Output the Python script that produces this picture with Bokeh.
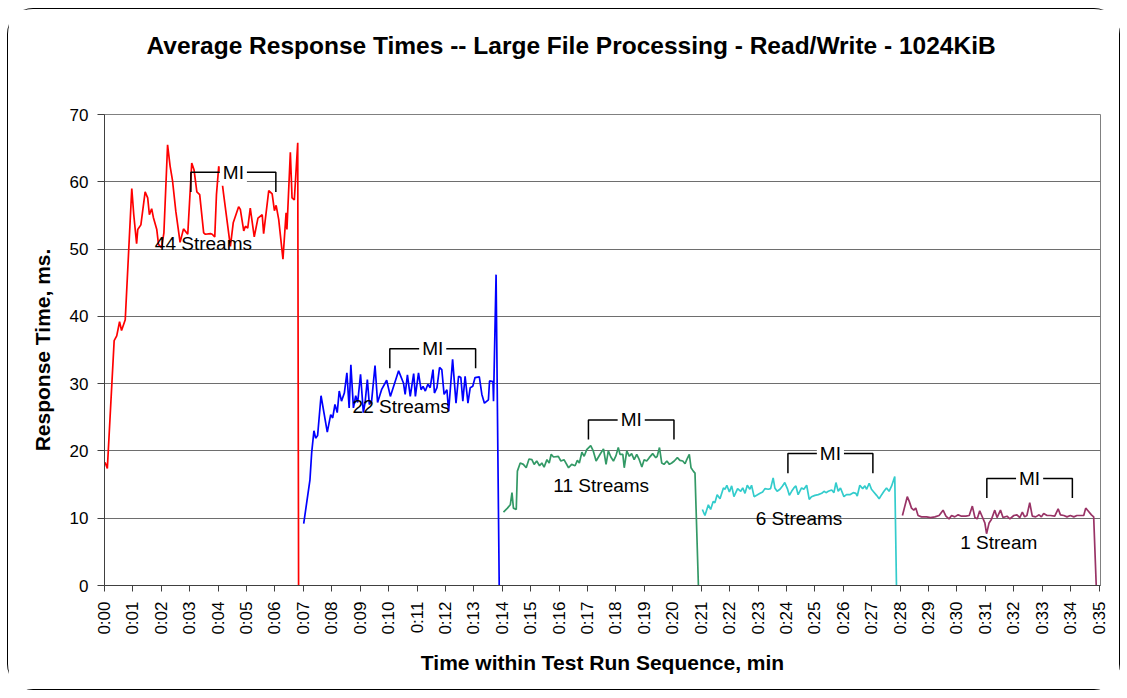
import math
from bokeh.plotting import figure
from bokeh.models import Range1d, FixedTicker, Label, Title
from bokeh.core.properties import value
from bokeh.embed import file_html
from bokeh.resources import INLINE

TITLE = "Average Response Times -- Large File Processing - Read/Write - 1024KiB"
X_LABEL = "Time within Test Run Sequence, min"
Y_LABEL = "Response Time, ms."
x_ticks = list(range(0, 36))
x_tick_labels = ["0:%02d" % m for m in x_ticks]
y_ticks = [0, 10, 20, 30, 40, 50, 60, 70]

# 44 streams (red)
t44 = [0.02, 0.1, 0.34, 0.43, 0.53, 0.6, 0.73, 0.96, 1.03, 1.13, 1.17, 1.28, 1.43, 1.52, 1.58, 1.66,
       1.72, 1.84, 1.9, 2.01, 2.09, 2.22, 2.31, 2.39, 2.51, 2.66, 2.78, 2.93, 3.07, 3.15, 3.25, 3.35,
       3.49, 3.55, 3.73, 3.79, 3.88, 3.94, 4.02, 4.11, 4.19, 4.43, 4.53, 4.72, 4.78, 4.9, 4.96, 5.04,
       5.13, 5.27, 5.4, 5.55, 5.6, 5.78, 5.9, 5.98, 6.04, 6.13, 6.28, 6.39, 6.42, 6.54, 6.6, 6.68,
       6.8, 6.83]
y44 = [18.3, 17.4, 36.4, 37.1, 39.2, 37.9, 39.5, 59.0, 55.1, 50.8, 52.9, 53.6, 58.5, 57.6, 55.1, 56.0,
       54.7, 52.9, 50.7, 50.2, 52.4, 65.5, 62.3, 60.3, 55.6, 51.0, 53.0, 52.2, 62.8, 61.8, 58.5, 58.1,
       52.4, 52.2, 52.3, 52.2, 51.8, 58.1, 62.3, 61.0, 58.2, 50.4, 53.9, 56.3, 55.9, 52.7, 53.4, 53.1,
       56.1, 51.8, 54.6, 55.1, 52.3, 58.7, 58.2, 55.7, 56.5, 54.4, 48.5, 55.4, 52.9, 64.4, 57.6, 57.3,
       65.8, 0.0]

# 22 streams (blue)
t22 = [7.01, 7.23, 7.29, 7.37, 7.43, 7.5, 7.62, 7.84, 7.96, 8.03, 8.11, 8.19, 8.26, 8.34, 8.44, 8.53,
       8.61, 8.67, 8.76, 8.84, 8.91, 9.01, 9.11, 9.17, 9.25, 9.32, 9.4, 9.52, 9.61, 9.75, 9.93, 10.06,
       10.35, 10.52, 10.58, 10.66, 10.76, 10.88, 10.94, 11.05, 11.14, 11.21, 11.29, 11.38, 11.46, 11.56,
       11.61, 11.7, 11.79, 11.87, 11.95, 12.05, 12.11, 12.25, 12.37, 12.46, 12.54, 12.61, 12.69, 12.79,
       12.87, 12.96, 13.04, 13.19, 13.28, 13.37, 13.51, 13.55, 13.67, 13.69, 13.78, 13.89]
y22 = [9.2, 15.7, 19.7, 23.0, 21.9, 22.3, 28.2, 22.8, 25.4, 24.9, 26.9, 25.7, 28.9, 27.4, 28.6, 31.6,
       26.4, 32.8, 26.4, 28.2, 27.2, 31.4, 25.7, 27.2, 30.6, 26.9, 27.4, 32.7, 27.2, 29.1, 30.5, 28.1,
       31.9, 30.1, 28.4, 31.3, 28.1, 31.5, 28.1, 31.6, 29.1, 29.6, 28.9, 29.9, 29.4, 32.1,
       28.6, 29.4, 32.4, 32.1, 28.4, 29.1, 25.9, 33.6, 27.1, 31.1, 30.9, 27.4, 31.1, 27.1,
       29.4, 29.6, 30.9, 31.0, 28.4, 27.1, 27.6, 30.4, 30.3, 27.4, 46.2, 0.0]

# 11 streams (green)
t11 = [14.04, 14.18, 14.28, 14.34, 14.39, 14.49, 14.53, 14.63, 14.74, 14.84, 14.94, 15.04, 15.12, 15.21,
       15.31, 15.39, 15.47, 15.57, 15.65, 15.72, 15.8, 15.97, 16.06, 16.17, 16.33, 16.44, 16.56, 16.64,
       16.71, 16.8, 16.88, 16.97, 17.11, 17.2, 17.3, 17.44, 17.56, 17.65, 17.73, 17.82, 17.91, 18.0,
       18.08, 18.14, 18.24, 18.29, 18.38, 18.47, 18.55, 18.64, 18.73, 18.82, 18.91, 18.99, 19.08, 19.17,
       19.29, 19.4, 19.45, 19.53, 19.61, 19.69, 19.79, 19.88, 19.96, 20.05, 20.16, 20.25, 20.35, 20.43,
       20.49, 20.58, 20.64, 20.72, 20.78, 20.9]
y11 = [10.9, 11.5, 12.0, 13.8, 11.5, 11.3, 17.0, 18.2, 18.0, 17.5, 18.8, 18.7, 18.0, 18.5,
       17.8, 18.2, 17.6, 18.7, 18.2, 19.5, 19.1, 19.2, 18.5, 18.7, 17.5, 18.0, 17.8, 18.6,
       18.2, 19.8, 19.2, 20.2, 20.8, 20.0, 18.5, 19.5, 20.3, 18.0, 20.0, 19.1, 18.5, 19.3,
       20.5, 19.5, 19.5, 17.5, 20.0, 19.2, 19.6, 18.7, 19.5, 18.7, 17.6, 18.7, 18.5, 19.0,
       19.6, 19.0, 19.2, 20.5, 18.2, 18.0, 18.5, 18.0, 18.2, 18.5, 19.0, 18.6, 18.5, 18.1,
       18.7, 19.5, 17.5, 17.0, 16.7, 0.0]

# 6 streams (cyan)
t6 = [21.04, 21.13, 21.25, 21.33, 21.42, 21.48, 21.56, 21.66, 21.78, 21.84, 21.9, 21.99, 22.07, 22.15,
      22.28, 22.39, 22.46, 22.54, 22.62, 22.71, 22.77, 22.86, 22.95, 23.07, 23.16, 23.24, 23.36, 23.44,
      23.53, 23.59, 23.67, 23.77, 23.86, 23.94, 24.03, 24.1, 24.18, 24.26, 24.33, 24.41, 24.53, 24.61,
      24.71, 24.8, 24.88, 25.0, 25.12, 25.24, 25.32, 25.39, 25.47, 25.59, 25.67, 25.74, 25.82, 25.9,
      26.02, 26.11, 26.23, 26.35, 26.44, 26.49, 26.58, 26.68, 26.76, 26.82, 26.91, 26.99, 27.07, 27.17,
      27.26, 27.35, 27.43, 27.52, 27.61, 27.7, 27.81, 27.87]
y6 = [11.3, 10.4, 12.0, 11.3, 12.5, 12.3, 13.5, 12.9, 14.5, 14.3, 14.9, 13.9, 14.8, 13.2,
      14.4, 14.0, 14.5, 13.7, 14.9, 14.3, 14.9, 13.2, 13.4, 13.7, 13.9, 14.4, 14.3, 14.4,
      16.0, 14.5, 14.0, 14.3, 14.8, 15.3, 14.4, 13.4, 14.0, 14.5, 14.8, 13.5, 14.5, 14.3,
      14.9, 12.8, 13.2, 13.4, 13.5, 13.7, 14.0, 13.8, 14.0, 14.2, 13.8, 15.3, 14.0, 14.5,
      13.2, 13.5, 13.5, 13.8, 13.7, 13.3, 14.9, 14.4, 14.8, 14.3, 15.2, 14.3, 13.9, 13.4,
      12.9, 13.5, 14.0, 14.5, 14.0, 14.8, 16.2, 0.0]

# 1 stream (purple)
t1 = [28.08, 28.25, 28.32, 28.4, 28.48, 28.55, 28.63, 28.75, 28.93, 29.07, 29.22, 29.37, 29.51, 29.61,
      29.72, 29.81, 29.92, 30.04, 30.16, 30.31, 30.43, 30.54, 30.63, 30.71, 30.8, 30.9, 30.98, 31.04,
      31.13, 31.21, 31.33, 31.41, 31.53, 31.62, 31.76, 31.86, 32.0, 32.11, 32.21, 32.3, 32.38, 32.46,
      32.56, 32.65, 32.77, 32.89, 32.97, 33.05, 33.17, 33.29, 33.44, 33.56, 33.64, 33.76, 33.87, 33.99,
      34.11, 34.22, 34.38, 34.46, 34.53, 34.61, 34.73, 34.81, 34.9]
y1 = [10.4, 13.2, 12.5, 11.5, 11.2, 11.5, 10.4, 10.2, 10.2, 10.1, 10.2, 10.4, 11.2, 10.3,
      9.9, 10.4, 10.2, 10.5, 10.3, 10.3, 10.4, 11.8, 10.1, 9.9, 11.1, 10.1, 9.3, 7.7,
      9.3, 9.8, 11.2, 10.1, 11.2, 10.1, 10.3, 9.9, 10.4, 10.5, 10.1, 10.9, 10.2, 10.4,
      12.3, 10.3, 10.2, 10.5, 10.2, 10.7, 10.4, 10.4, 10.3, 11.4, 10.5, 10.4, 10.2, 10.4,
      10.2, 10.4, 10.4, 10.4, 11.5, 11.1, 10.5, 10.2, 0.0]

series = [
    (t44, y44, "#FF0000"),
    (t22, y22, "#0000FF"),
    (t11, y11, "#339966"),
    (t6, y6, "#33CCCC"),
    (t1, y1, "#993366"),
]

stream_labels = ["44 Streams", "22 Streams", "11 Streams", "6 Streams", "1 Stream"]
stream_label_x = [3.48, 10.44, 17.48, 24.44, 31.47]
stream_label_y = [50.8, 26.6, 14.9, 9.96, 6.4]

mi_start = [3.04, 10.04, 17.03, 24.05, 31.05]
mi_end = [6.03, 13.06, 20.04, 27.04, 34.06]
mi_top = [61.4, 35.2, 24.6, 19.6, 15.9]
mi_drop = 2.9

FONT = "Liberation Sans"

p = figure(width=1113, height=682, output_backend="svg", toolbar_location=None,
           x_range=Range1d(0, 35.05), y_range=Range1d(0, 70),
           min_border_left=96, min_border_right=21, min_border_top=105, min_border_bottom=106)
p.styles = {"border": "1px solid #000000", "border-radius": "26px", "box-sizing": "border-box",
            "margin-left": "7px", "margin-top": "8px"}
p.background_fill_color = "white"
p.border_fill_color = "white"
p.outline_line_color = "#808080"
p.outline_line_width = 1

# spacer between frame and title (first added = closest to the frame)
p.add_layout(Title(text=" ", text_font_size="1px", standoff=47), "above")
p.add_layout(Title(text=TITLE, text_font=FONT, text_font_size="24.5px", text_font_style="bold",
                   text_color="black", align="left", vertical_align="middle", offset=42,
                   standoff=10), "above")

for t, y, c in series:
    p.line(t, y, line_color=c, line_width=1.7)

p.text(x=stream_label_x, y=stream_label_y, text=stream_labels, text_align="center",
       text_baseline="middle", text_font=value(FONT), text_font_size="19px", text_color="black")

for xs, xe, yt in zip(mi_start, mi_end, mi_top):
    p.line([xs, xs, xe, xe], [yt - mi_drop, yt, yt, yt - mi_drop], line_color="black", line_width=1.5)
    p.add_layout(Label(x=(xs + xe) / 2, y=yt, text="MI", text_align="center", text_baseline="middle",
                       text_font=FONT, text_font_size="19px", text_color="black",
                       background_fill_color="white", padding=3))

p.xgrid.visible = False
p.ygrid.grid_line_color = "#6e6e6e"
p.ygrid.grid_line_width = 1
p.ygrid.ticker = FixedTicker(ticks=y_ticks)

xa = p.xaxis[0]
xa.ticker = FixedTicker(ticks=x_ticks)
xa.major_label_overrides = {m: lab for m, lab in zip(x_ticks, x_tick_labels)}
xa.major_label_orientation = math.pi / 2
xa.minor_tick_line_color = None
xa.major_tick_out = 6
xa.major_tick_in = 0
xa.major_label_standoff = 10
xa.axis_label = X_LABEL
xa.axis_label_standoff = 13

ya = p.yaxis[0]
ya.ticker = FixedTicker(ticks=y_ticks)
ya.minor_tick_line_color = None
ya.major_tick_out = 7
ya.major_tick_in = 0
ya.major_label_standoff = 9
ya.axis_label = Y_LABEL
ya.axis_label_standoff = 13

for ax in (xa, ya):
    ax.axis_line_color = "#404040"
    ax.major_tick_line_color = "#404040"
    ax.major_label_text_font = FONT
    ax.major_label_text_font_size = "17px"
    ax.major_label_text_color = "black"
    ax.axis_label_text_font = FONT
    ax.axis_label_text_font_size = "21px"
    ax.axis_label_text_font_style = "bold"
    ax.axis_label_text_color = "black"

open("out.html", "w").write(file_html(p, INLINE))
